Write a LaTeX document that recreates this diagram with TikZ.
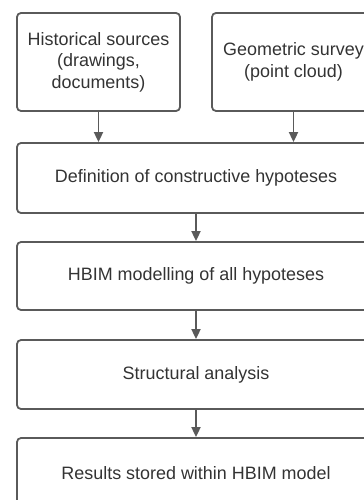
\documentclass[tikz,border=0pt]{standalone}
\usepackage{fontspec}
\setmainfont{Liberation Sans}
\usepackage{tikz}
\usetikzlibrary{arrows.meta, positioning}
\usepackage{xcolor}
\definecolor{linegray}{HTML}{5A5A5A}
\definecolor{textgray}{HTML}{333333}

\begin{document}
\begin{tikzpicture}[x=1bp, y=-1bp,
  box/.style={draw=linegray, line width=1.8bp, rounded corners=4bp,
              align=center, text=textgray, inner sep=0pt,
              font=\fontsize{18}{21.5}\selectfont},
  flow/.style={-{Triangle[length=10bp, width=9bp]}, draw=linegray,
               line width=1.8bp}]
  \useasboundingbox (0,0) rectangle (363,500);
  % sources
  \node[box, minimum width=163bp, minimum height=98bp] (hist) at (98.5,62)
    {Historical sources\\(drawings,\\documents)};
  \node[box, minimum width=163bp, minimum height=98bp] (survey) at (293.5,62)
    {Geometric survey\\(point cloud)};
  % steps
  \node[box, minimum width=358bp, minimum height=70bp] (hypo) at (196,178)
    {Definition of constructive hypoteses};
  \node[box, minimum width=358bp, minimum height=68bp] (hbim) at (196,276)
    {HBIM modelling of all hypoteses};
  \node[box, minimum width=358bp, minimum height=69bp] (struct) at (196,374.5)
    {Structural analysis};
  \node[box, minimum width=358bp, minimum height=70bp] (result) at (196,473)
    {Results stored within HBIM model};
  % arrows
  \draw[flow] (hist.south) -- (hist.south |- hypo.north);
  \draw[flow] (survey.south) -- (survey.south |- hypo.north);
  \draw[flow] (hypo) -- (hbim);
  \draw[flow] (hbim) -- (struct);
  \draw[flow] (struct) -- (result);
\end{tikzpicture}
\end{document}
